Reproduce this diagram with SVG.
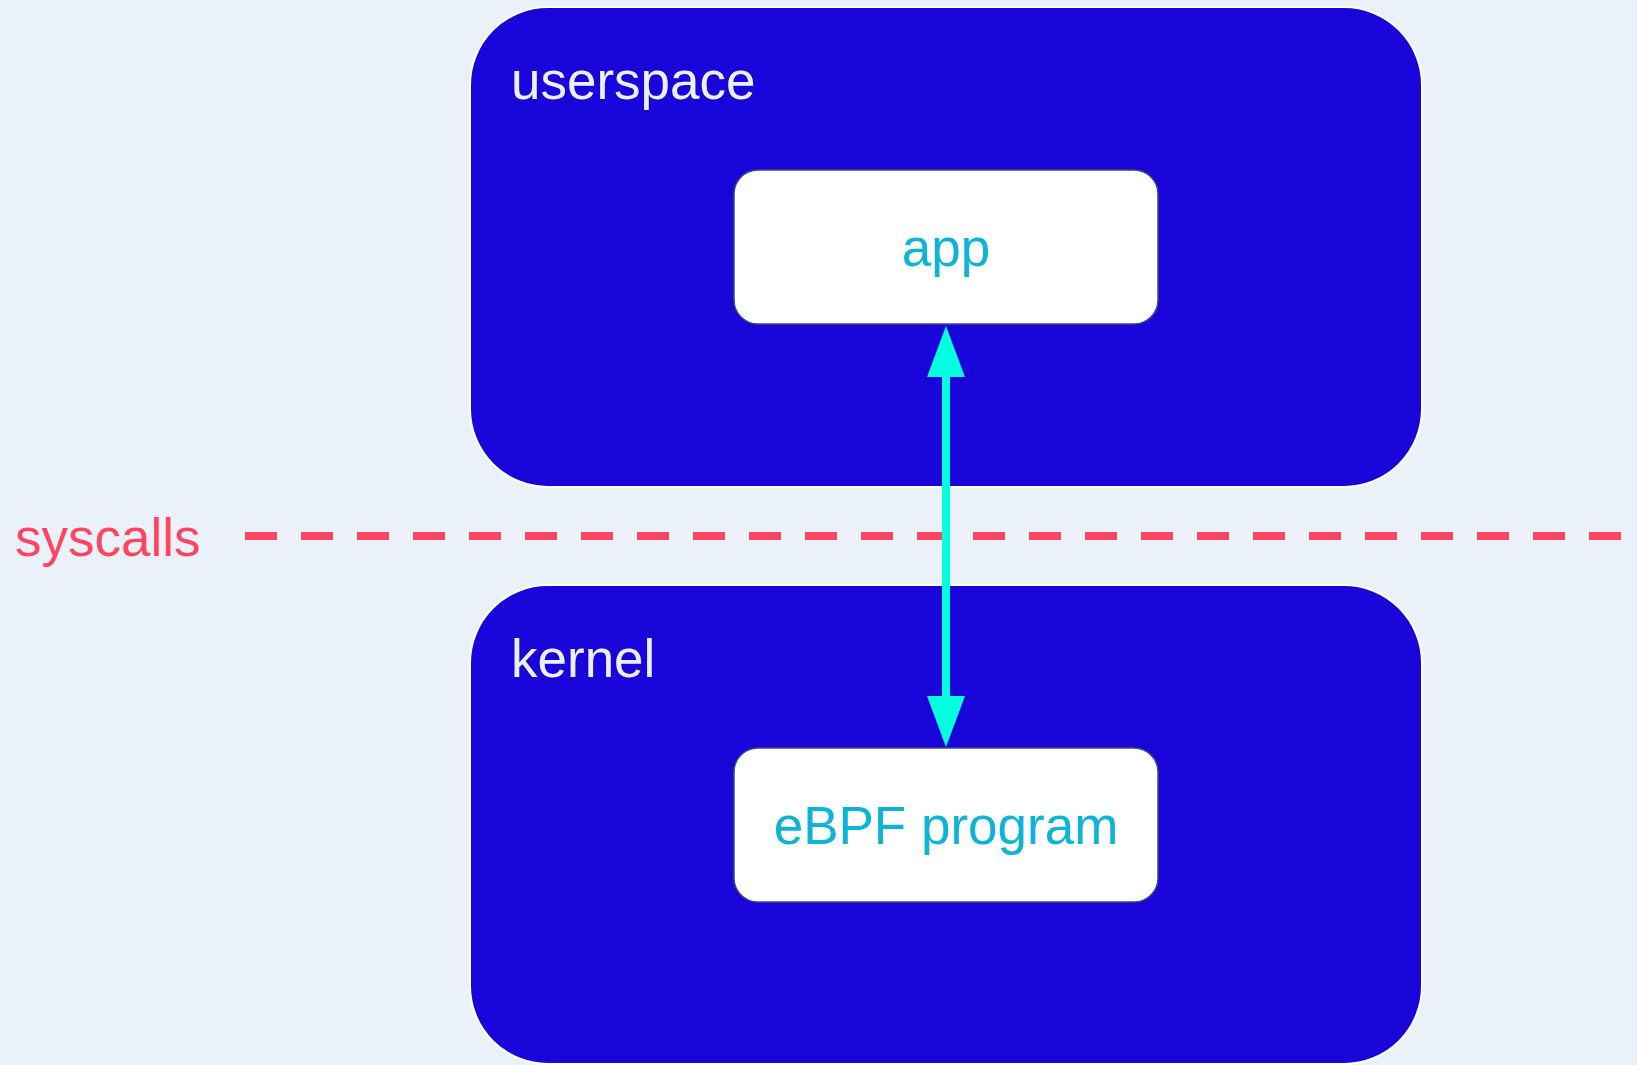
<svg xmlns="http://www.w3.org/2000/svg" width="1637" height="1065" viewBox="0 0 1637 1065">
  <style>
    .region { fill: #1905da; stroke: #ffffff; stroke-width: 2; }
    .region-label { font-family: "Liberation Sans", Arial, sans-serif; font-size: 53px; fill: #eaf1fb; }
    .node { fill: #ffffff; stroke: #3d4a80; stroke-width: 1.5; }
    .node-label { font-family: "Liberation Sans", Arial, sans-serif; font-size: 53px; fill: #0db4d8; text-anchor: middle; }
    .syscall-label { font-family: "Liberation Sans", Arial, sans-serif; font-size: 53px; fill: #ff4562; }
    .syscall-line { stroke: #ff4562; stroke-width: 8; stroke-dasharray: 32 24; fill: none; }
    .conn { stroke: #03ffdf; stroke-width: 8; fill: none; }
  </style>
  <defs>
    <marker id="arrow" viewBox="0 0 51 38" markerWidth="51" markerHeight="38" markerUnits="userSpaceOnUse" refX="0" refY="19" orient="auto-start-reverse">
      <path d="M0,0 L51,19 L0,38 Z" fill="#03ffdf"/>
    </marker>
  </defs>
  <rect x="0" y="0" width="1637" height="1065" fill="#eaf1f9"/>

  <g id="userspace">
    <rect class="region" x="470" y="7" width="952" height="480" rx="78" ry="78"/>
    <text class="region-label" x="511" y="99">userspace</text>
  </g>
  <g id="kernel">
    <rect class="region" x="470" y="585" width="952" height="479" rx="78" ry="78"/>
    <text class="region-label" x="511" y="677">kernel</text>
  </g>

  <g id="syscalls">
    <text class="syscall-label" x="15" y="556">syscalls</text>
    <line class="syscall-line" x1="245" y1="536" x2="1637" y2="536"/>
  </g>

  <g id="app">
    <rect class="node" x="734" y="170" width="424" height="154" rx="24" ry="24"/>
    <text class="node-label" x="946" y="266">app</text>
  </g>
  <g id="ebpf">
    <rect class="node" x="734" y="748" width="424" height="154" rx="24" ry="24"/>
    <text class="node-label" x="946" y="844">eBPF program</text>
  </g>

  <g id="connectors">
    <line class="conn" x1="946" y1="377" x2="946" y2="696" marker-start="url(#arrow)" marker-end="url(#arrow)"/>
  </g>
</svg>
